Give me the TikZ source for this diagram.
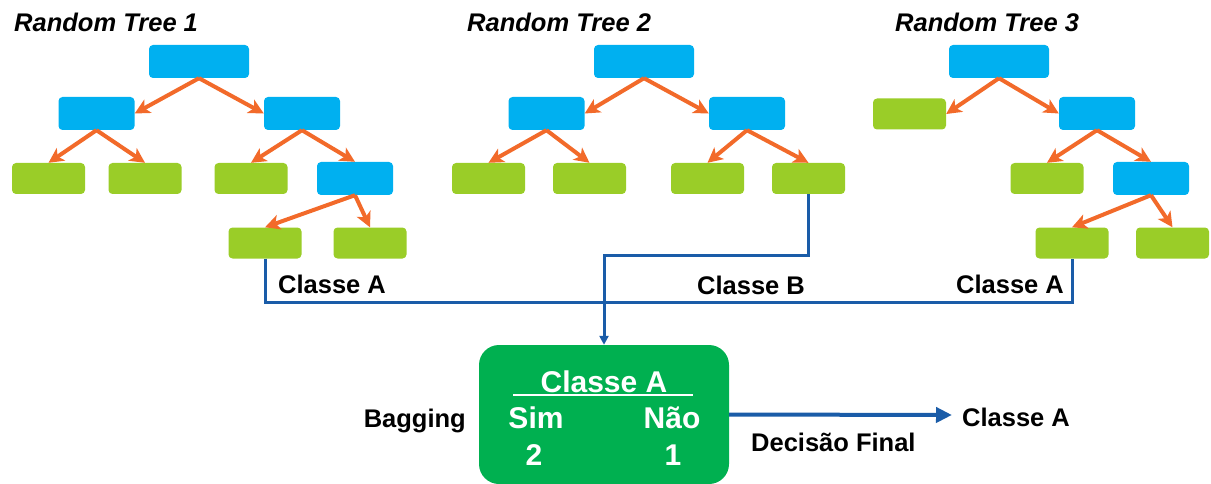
\documentclass[tikz,border=0pt]{standalone}
\usepackage{fontspec}
\setmainfont{Liberation Sans}
\usetikzlibrary{arrows.meta}
\definecolor{nodeblue}{HTML}{00B0F0}
\definecolor{leafgreen}{HTML}{9ACD28}
\definecolor{boxgreen}{HTML}{00B050}
\definecolor{arrorange}{HTML}{F26A2A}
\definecolor{linkblue}{HTML}{1A5CA8}
\begin{document}
\begin{tikzpicture}[x=1pt,y=-1pt,
  splitnode/.style={fill=nodeblue,rounded corners=4pt,minimum width=76pt,minimum height=33pt,inner sep=0pt},
  rootnode/.style={splitnode,minimum width=100pt},
  leafnode/.style={fill=leafgreen,rounded corners=4pt,minimum width=73pt,minimum height=31pt,inner sep=0pt},
  treearrow/.style={draw=arrorange,line width=4pt,-{Stealth[length=15pt,width=15pt,inset=4pt]}},
  link/.style={draw=linkblue,line width=3pt},
  lbl/.style={inner sep=0pt,font=\fontsize{25.5}{30}\selectfont\bfseries},
  ttl/.style={inner sep=0pt,font=\fontsize{25.5}{30}\selectfont\bfseries\itshape},
  intxt/.style={inner sep=0pt,text=white,font=\fontsize{30}{36}\selectfont\bfseries}]
\useasboundingbox (0,0) rectangle (1211,484);

% titles
\node[ttl,anchor=base west] (t1) at (14,32) {Random Tree 1};
\node[ttl,anchor=base west] (t2) at (467,32) {Random Tree 2};
\node[ttl,anchor=base west] (t3) at (895,32) {Random Tree 3};

% tree 1
\node[rootnode] (a0) at (199,61.5) {};
\node[splitnode] (a1) at (96.5,113.5) {};
\node[splitnode] (a2) at (302,113.5) {};
\node[leafnode] (a3) at (48.5,178.5) {};
\node[leafnode] (a4) at (145,178.5) {};
\node[leafnode] (a5) at (251,178.5) {};
\node[splitnode] (a6) at (355,178.5) {};
\node[leafnode] (a7) at (265,243) {};
\node[leafnode] (a8) at (370,243) {};
\draw[treearrow] (a0.south) -- (a1.east);
\draw[treearrow] (a0.south) -- (a2.west);
\draw[treearrow] (a1.south) -- (a3.north);
\draw[treearrow] (a1.south) -- (a4.north);
\draw[treearrow] (a2.south) -- (a5.north);
\draw[treearrow] (a2.south) -- (a6.north);
\draw[treearrow] (a6.south) -- (a7.north);
\draw[treearrow] (a6.south) -- (a8.north);

% tree 2
\node[rootnode] (b0) at (644,61.5) {};
\node[splitnode] (b1) at (546.5,113.5) {};
\node[splitnode] (b2) at (747,113.5) {};
\node[leafnode] (b3) at (488.5,178.5) {};
\node[leafnode] (b4) at (589.5,178.5) {};
\node[leafnode] (b5) at (707.5,178.5) {};
\node[leafnode] (b6) at (808.5,178.5) {};
\draw[treearrow] (b0.south) -- (b1.east);
\draw[treearrow] (b0.south) -- (b2.west);
\draw[treearrow] (b1.south) -- (b3.north);
\draw[treearrow] (b1.south) -- (b4.north);
\draw[treearrow] (b2.south) -- (b5.north);
\draw[treearrow] (b2.south) -- (b6.north);

% tree 3
\node[rootnode] (c0) at (999,61.5) {};
\node[leafnode] (c1) at (909.5,114) {};
\node[splitnode] (c2) at (1097,113.5) {};
\node[leafnode] (c3) at (1047,178.5) {};
\node[splitnode] (c4) at (1151,178.5) {};
\node[leafnode] (c5) at (1072,243) {};
\node[leafnode] (c6) at (1172.5,243) {};
\draw[treearrow] (c0.south) -- (c1.east);
\draw[treearrow] (c0.south) -- (c2.west);
\draw[treearrow] (c2.south) -- (c3.north);
\draw[treearrow] (c2.south) -- (c4.north);
\draw[treearrow] (c4.south) -- (c5.north);
\draw[treearrow] (c4.south) -- (c6.north);

% bagging box
\node[fill=boxgreen,rounded corners=20pt,minimum width=250pt,minimum height=139pt,inner sep=0pt] (bag) at (604,414.5) {};
\node[intxt,anchor=base] (bc) at (604,392) {Classe A};
\coordinate (ul1) at (513,395);
\coordinate (ul2) at (693,395);
\draw[white,line width=2.2pt] (ul1) -- (ul2);
\node[intxt,anchor=base] (bs) at (536,428) {Sim};
\node[intxt,anchor=base] (bn) at (672,428) {Não};
\node[intxt,anchor=base] (b2v) at (534,465) {2};
\node[intxt,anchor=base] (b1v) at (673,465) {1};
\node[lbl,anchor=base east] (bagging) at (466,427) {Bagging};

% connectors
\coordinate (bus) at (0,302);
\draw[link] (a7.south) |- (c5.south |- bus) -- (c5.south);
\coordinate (e2) at (604,255);
\draw[link,-{Triangle[length=9pt,width=9pt]}] (b6.south) |- (e2) -- (bag.north);
\coordinate (tip) at (952,415);
\draw[link,line width=4pt,-{Triangle[length=16pt,width=15pt]}] (bag.east) -- (tip);

% labels
\node[lbl,anchor=base west] (la) at (278,293) {Classe A};
\node[lbl,anchor=base west] (lb) at (697,294) {Classe B};
\node[lbl,anchor=base west] (lc) at (956,293) {Classe A};
\node[lbl,anchor=base west] (df) at (751,451) {Decisão Final};
\node[lbl,anchor=base west] (fin) at (962,426) {Classe A};
\end{tikzpicture}
\end{document}
